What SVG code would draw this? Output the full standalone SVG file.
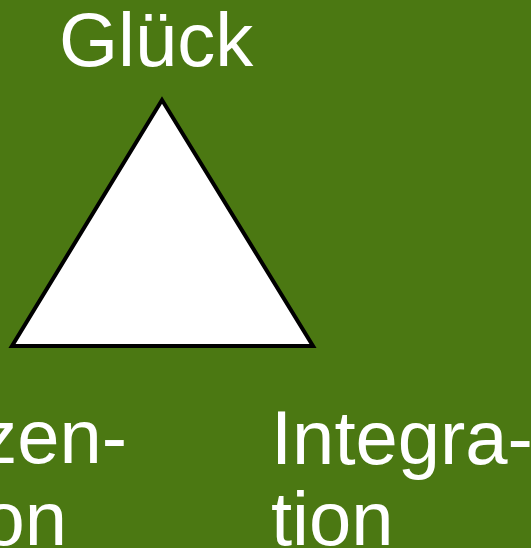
<svg xmlns="http://www.w3.org/2000/svg" width="531" height="548" viewBox="0 0 531 548">
<style>
.lbl{font-family:"Liberation Sans",Arial,sans-serif;font-size:76px;fill:#ffffff}
</style>
<rect x="0" y="0" width="531" height="548" fill="#4b7812"/>
<g id="triangle">
<polygon points="162,100 12,346 313,346" fill="#ffffff" stroke="#000000" stroke-width="4" stroke-linejoin="miter"/>
</g>
<g id="top-label">
<text class="lbl" x="59" y="66">Glück</text>
</g>
<g id="left-label">
<text class="lbl" x="127" y="463" text-anchor="end">zen-</text>
<text class="lbl" x="67" y="545" text-anchor="end">on</text>
</g>
<g id="right-label">
<text class="lbl" x="271" y="464">Integra-</text>
<text class="lbl" x="271" y="545">tion</text>
</g>
<g id="connectors"></g>
</svg>
